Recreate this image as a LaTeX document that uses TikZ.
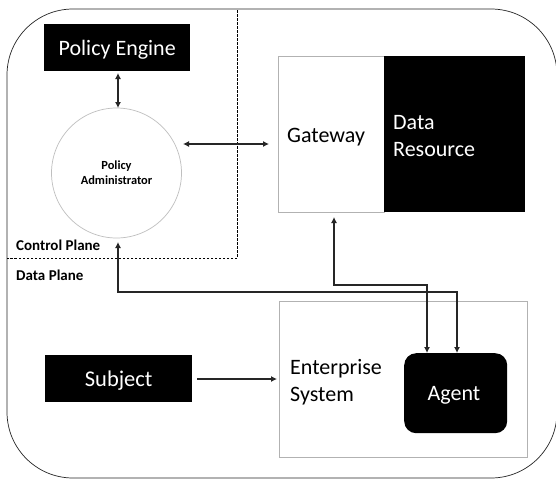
\documentclass[tikz,border=0pt]{standalone}
\usepackage{fontspec}
\setmainfont{Carlito}
\usetikzlibrary{arrows.meta}
\tikzset{
 blk/.style={draw=none,fill=black,text=white,inner sep=0pt,align=left},
 lite/.style={draw=black!30,line width=0.7pt,fill=white},
 conn/.style={draw=black!85,line width=1.1pt,{Latex[length=6pt,width=6pt]}-{Latex[length=6pt,width=6pt]}},
 lbl/.style={inner sep=0pt,anchor=west,align=left}
}
\begin{document}
\begin{tikzpicture}[x=1pt,y=-1pt]
\useasboundingbox (0,0) rectangle (556,479);
\fill[white] (0,0) rectangle (556,479);
\begin{scope}
\clip (0,0) rectangle (556,479);
\draw[black!85,line width=0.7pt,rounded corners=66pt] (7,9) rectangle (557,478);
\end{scope}
\coordinate (d1) at (237,10);
\coordinate (d2) at (237,258);
\coordinate (d3) at (7,258);
\draw[line width=0.5pt,dash pattern=on 2.5pt off 1.5pt] (d1) -- (d2) -- (d3);
\node[blk,minimum width=146pt,minimum height=47pt,anchor=north west,font=\fontsize{22}{26}\selectfont] (pe) at (44,24) {\raisebox{0pt}[15pt][0pt]{Policy Engine}};
\node[circle,draw=black!25,line width=0.7pt,fill=white,minimum size=130pt,inner sep=0pt,align=center,font=\bfseries\fontsize{12.4}{15}\selectfont] (pa) at (116.5,173) {Policy\\Administrator};
\node[lite,minimum width=106pt,minimum height=156pt,anchor=north west,inner sep=0pt] (gw) at (278,56) {};
\node[lbl,font=\fontsize{22}{26}\selectfont] (gwt) at (287,137) {Gateway};
\node[blk,minimum width=141pt,minimum height=156pt,anchor=north west] (dr) at (384,56) {};
\node[lbl,text=white,font=\fontsize{22}{27}\selectfont] (drt) at (393,136) {Data\\Resource};
\node[lite,minimum width=248pt,minimum height=156pt,anchor=north west] (es) at (279,301) {};
\node[lbl,font=\fontsize{22}{27}\selectfont] (est) at (290,382) {Enterprise\\System};
\node[blk,minimum width=103pt,minimum height=80pt,anchor=north west,rounded corners=12pt] (ag) at (404,353) {};
\node[text=white,inner sep=0pt,font=\fontsize{22}{26}\selectfont] (agt) at (454,395) {Agent};
\node[blk,minimum width=147pt,minimum height=47pt,anchor=north west,font=\fontsize{22.5}{27}\selectfont] (su) at (45,355) {\raisebox{0pt}[15pt][0pt]{Subject}};
\node[lbl,font=\bfseries\fontsize{15}{18}\selectfont] (cp) at (16,245) {Control Plane};
\node[lbl,font=\bfseries\fontsize{15}{18}\selectfont] (dp) at (16,275) {Data Plane};
\coordinate (peb) at (118,73);
\coordinate (pat) at (118,108);
\coordinate (par) at (183,144);
\coordinate (gwl) at (269,144);
\coordinate (pab) at (118,242);
\coordinate (gwb) at (334,217);
\coordinate (a1) at (427,353);
\coordinate (a2) at (457,353);
\coordinate (sur) at (197,379);
\coordinate (esl) at (277,379);
\draw[conn] (peb) -- (pat);
\draw[conn] (par) -- (gwl);
\draw[draw=black!85,line width=1.1pt,-{Latex[length=6pt,width=6pt]}] (sur) -- (esl);
\draw[conn] (pab) -- (118,292) -- (457,292) -- (a2);
\draw[conn] (gwb) -- (334,285) -- (427,285) -- (a1);
\end{tikzpicture}
\end{document}
